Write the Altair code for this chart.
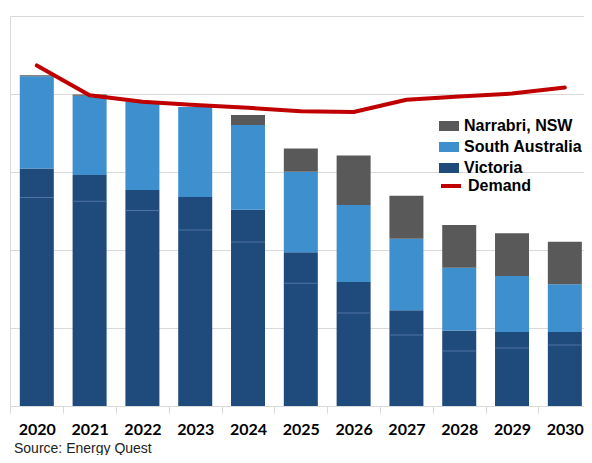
import altair as alt
import pandas as pd

years = [2020, 2021, 2022, 2023, 2024, 2025, 2026, 2027, 2028, 2029, 2030]
victoria = [152.3, 148.0, 138.5, 133.9, 125.8, 98.5, 79.5, 61.4, 48.4, 47.4, 47.4]
south_australia = [59.0, 50.9, 56.5, 57.7, 54.4, 51.7, 49.3, 45.8, 40.2, 35.9, 30.6]
narrabri = [0.7, 0.7, 0.0, 0.0, 6.3, 14.8, 31.7, 27.5, 27.5, 27.5, 27.3]
demand = [218.3, 199.2, 195.1, 192.9, 191.2, 188.9, 188.5, 196.3, 198.4, 200.3, 204.1]
victoria_split = [133.7, 131.3, 125.4, 112.8, 105.1, 78.7, 59.6, 45.5, 35.3, 37.2, 39.1]

series = ["Narrabri, NSW", "South Australia", "Victoria"]
colors = ["#595959", "#3d8fce", "#1f4a7c"]
source_text = ["Source: Energy Quest"]

rows = []
for i, y in enumerate(years):
    rows.append({"year": y, "series": "Victoria", "ord": 0, "value": victoria[i]})
    rows.append({"year": y, "series": "South Australia", "ord": 1, "value": south_australia[i]})
    rows.append({"year": y, "series": "Narrabri, NSW", "ord": 2, "value": narrabri[i]})
bars_df = pd.DataFrame(rows)
line_df = pd.DataFrame({"year": years, "value": demand, "s": ["Demand"] * len(years)})
split_df = pd.DataFrame({"year": years, "value": victoria_split})
src_df = pd.DataFrame({"t": source_text})

W = 574
H = 390
half_step = 26.4
x_scale = alt.Scale(domain=[2019.4924, 2030.363], nice=False, zero=False, padding=0)
x_enc = alt.X(
    "year:Q",
    scale=x_scale,
    axis=alt.Axis(
        title=None, values=years, format="d", labelAngle=0, labelFont="Lato",
        labelFontWeight="bold", labelFontSize=16, labelColor="black",
        tickSize=7, tickOffset=-half_step, labelOffset=half_step, tickColor="#d9d9d9",
        domainColor="#d9d9d9", labelPadding=8, grid=False, labelFlush=False,
        labelOverlap=False, labelBound=False,
    ),
)
y_scale = alt.Scale(domain=[0, 250], nice=False)
y_axis = alt.Axis(
    title=None, labels=False, ticks=False, values=[0, 50, 100, 150, 200, 250],
    gridColor="#d9d9d9", domainColor="#d9d9d9",
)

legend_common = dict(
    title=None, orient="none", labelFont="Liberation Sans", labelFontWeight="bold",
    labelFontSize=16, labelColor="black", labelOffset=5, padding=0,
)

bars = alt.Chart(bars_df).mark_bar(size=34).encode(
    x=x_enc,
    y=alt.Y("value:Q", stack="zero", scale=y_scale, axis=y_axis),
    color=alt.Color(
        "series:N",
        scale=alt.Scale(domain=series, range=colors),
        legend=alt.Legend(
            legendX=429, legendY=100,
            symbolType="M-1,-0.5L1,-0.5L1,0.5L-1,0.5Z", symbolSize=400,
            symbolStrokeWidth=0, symbolOpacity=1, rowPadding=3, **legend_common,
        ),
    ),
    order=alt.Order("ord:Q"),
)

ticks = alt.Chart(split_df).mark_tick(
    size=34, thickness=1, color="#5a7fae", opacity=0.8, orient="horizontal"
).encode(
    x=alt.X("year:Q"),
    y=alt.Y("value:Q"),
)

line = alt.Chart(line_df).mark_line(strokeWidth=4, strokeCap="round", strokeJoin="round").encode(
    x=alt.X("year:Q"),
    y=alt.Y("value:Q"),
    stroke=alt.Stroke(
        "s:N",
        scale=alt.Scale(domain=["Demand"], range=["#c00000"]),
        legend=alt.Legend(
            legendX=429, legendY=158,
            symbolType="stroke", symbolSize=400, symbolStrokeWidth=4,
            rowPadding=0, **legend_common,
        ),
    ),
)

src = alt.Chart(src_df).mark_text(
    align="left", baseline="alphabetic", font="Liberation Sans", fontSize=14, color="#222222"
).encode(text="t:N", x=alt.value(4), y=alt.value(437))

chart = alt.layer(bars, ticks, line, src).properties(
    width=W, height=H,
    padding={"left": 2, "top": 8, "right": 0, "bottom": 49},
    autosize=alt.AutoSizeParams(type="none"),
).configure_view(stroke=None)

chart.save("out.html", embed_options={"renderer": "svg", "actions": False})
